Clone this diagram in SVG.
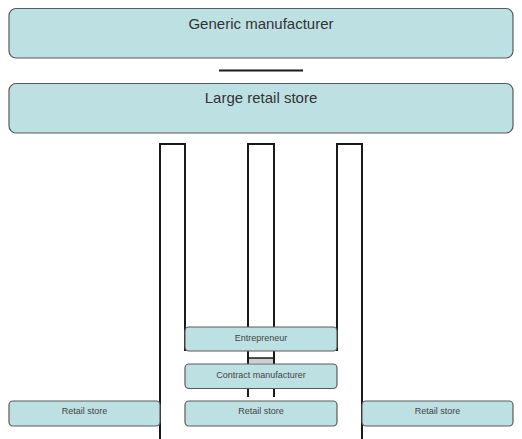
<svg xmlns="http://www.w3.org/2000/svg" width="522" height="439" viewBox="0 0 522 439">
<style>
.box{fill:#bde0e3;stroke:#5a5a5a;stroke-width:1.2}
.big{font-family:"Liberation Sans",Arial,sans-serif;font-size:15px;fill:#333;text-anchor:middle}
.sm{font-family:"Liberation Sans",Arial,sans-serif;font-size:9px;fill:#444;text-anchor:middle}
.ln{fill:none;stroke:#1a1a1a;stroke-width:2}
</style>
<rect width="522" height="439" fill="#fff"/>
<g id="connectors">
<line class="ln" x1="219" y1="70.5" x2="303" y2="70.5"/>
<polyline class="ln" points="160,439 160,144 185,144 185,351"/>
<polyline class="ln" points="248,327 248,144 274,144 274,327"/>
<polyline class="ln" points="337,351 337,144 362,144 362,439"/>
<rect x="248" y="358" width="26" height="5" fill="#cfcfcf"/>
<line class="ln" x1="248" y1="351" x2="248" y2="364"/>
<line class="ln" x1="274" y1="351" x2="274" y2="364"/>
<line x1="248" y1="358" x2="274" y2="358" stroke="#1a1a1a" stroke-width="1.5"/>
<line class="ln" x1="248" y1="389" x2="248" y2="397"/>
<line class="ln" x1="274" y1="389" x2="274" y2="397"/>
</g>
<g id="generic-manufacturer">
<rect class="box" x="9" y="8.5" width="504" height="49.5" rx="7"/>
<text class="big" x="261" y="29">Generic manufacturer</text>
</g>
<g id="large-retail-store">
<rect class="box" x="9" y="83.5" width="504" height="49.5" rx="7"/>
<text class="big" x="261" y="103">Large retail store</text>
</g>
<g id="entrepreneur">
<rect class="box" x="185" y="327" width="152" height="24" rx="4"/>
<text class="sm" x="261" y="340.5">Entrepreneur</text>
</g>
<g id="contract-manufacturer">
<rect class="box" x="185" y="364" width="152" height="24.5" rx="4"/>
<text class="sm" x="261" y="377.5">Contract manufacturer</text>
</g>
<g id="retail-store-left">
<rect class="box" x="9" y="401" width="151" height="25" rx="4"/>
<text class="sm" x="84.5" y="414">Retail store</text>
</g>
<g id="retail-store-middle">
<rect class="box" x="185" y="401" width="152" height="25" rx="4"/>
<text class="sm" x="261" y="414">Retail store</text>
</g>
<g id="retail-store-right">
<rect class="box" x="362" y="401" width="151" height="25" rx="4"/>
<text class="sm" x="437.5" y="414">Retail store</text>
</g>
</svg>
